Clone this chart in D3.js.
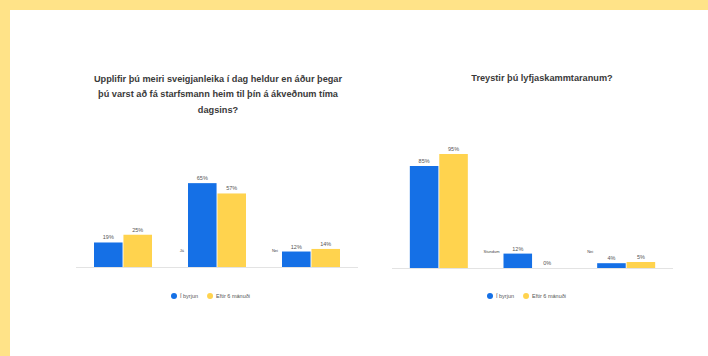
<!DOCTYPE html>
<html>
<head>
<meta charset="utf-8">
<script src="https://cdn.jsdelivr.net/npm/d3@7/dist/d3.min.js"></script>
<style>
  html, body { margin: 0; padding: 0; background: #fff; }
  svg { display: block; font-family: "Liberation Sans", Arial, sans-serif; }
</style>
</head>
<body>
<svg id="chart" width="708" height="356"></svg>
<script>
// Survey answers, first measurement vs. after six months
const seriesNames = ["Í byrjun", "Eftir 6 mánuði"];
const seriesColors = ["#1570E6", "#FFD34E"];

const flexTitle = ["Upplifir þú meiri sveigjanleika í dag heldur en áður þegar",
                   "þú varst að fá starfsmann heim til þín á ákveðnum tíma",
                   "dagsins?"];
const flexCategories = ["", "Já", "Nei"];
const flexStart = [19, 65, 12];
const flexAfter = [25, 57, 14];

const trustTitle = ["Treystir þú lyfjaskammtaranum?"];
const trustCategories = ["", "Stundum", "Nei"];
const trustStart = [85, 12, 4];
const trustAfter = [95, 0, 5];

const svg = d3.select("#chart");

// page frame: yellow band along the top and left edge
svg.append("rect").attr("x", 0).attr("y", 0).attr("width", 708).attr("height", 10).attr("fill", "#FFE388");
svg.append("rect").attr("x", 0).attr("y", 0).attr("width", 10).attr("height", 356).attr("fill", "#FFE388");

function drawPanel(opt) {
  const g = svg.append("g");
  const x = d3.scaleBand().domain(d3.range(opt.categories.length)).range([opt.x0, opt.x1]).paddingInner(0).paddingOuter(0);
  const inner = d3.scaleBand().domain(d3.range(seriesNames.length)).range([0, 58]).paddingInner(0.03);
  const y = d3.scaleLinear().domain([0, 100]).range([opt.base, opt.base - opt.scaleH]);

  // title
  const t = g.append("text").attr("text-anchor", "middle").attr("fill", "#3a3a3a")
    .attr("font-size", 9.2).attr("font-weight", "bold");
  opt.title.forEach((line, i) => {
    t.append("tspan").attr("x", opt.titleX).attr("y", opt.titleY + i * 15.5).text(line);
  });

  // baseline
  g.append("line").attr("x1", opt.x0).attr("x2", opt.x1).attr("y1", opt.base + 0.5).attr("y2", opt.base + 0.5)
    .attr("stroke", "#e3e3e3").attr("stroke-width", 1);

  const series = [opt.start, opt.after];
  opt.categories.forEach((cat, ci) => {
    const gx = x(ci) + x.bandwidth() / 2 - 29;
    series.forEach((vals, si) => {
      const v = vals[ci];
      const bx = gx + inner(si);
      g.append("rect").attr("x", bx).attr("y", y(v)).attr("width", inner.bandwidth())
        .attr("height", y(0) - y(v)).attr("fill", seriesColors[si]);
      g.append("text").attr("x", bx + inner.bandwidth() / 2).attr("y", y(v) - 3)
        .attr("text-anchor", "middle").attr("font-size", 5.5).attr("fill", "#555").text(v + "%");
    });
    if (cat) {
      g.append("text").attr("x", gx - 4).attr("y", opt.base - 15).attr("text-anchor", "end")
        .attr("font-size", 4).attr("fill", "#444").text(cat);
    }
  });

  // legend
  const lg = g.append("g").attr("transform", `translate(${opt.legendX},296)`);
  let lx = 0;
  seriesNames.forEach((name, i) => {
    lg.append("circle").attr("cx", lx).attr("cy", 0).attr("r", 3).attr("fill", seriesColors[i]);
    const txt = lg.append("text").attr("x", lx + 6).attr("y", 2).attr("font-size", 5.5).attr("fill", "#555").text(name);
    lx += 6 + txt.node().getComputedTextLength() + 12;
  });
}

drawPanel({
  title: flexTitle, categories: flexCategories, start: flexStart, after: flexAfter,
  x0: 76, x1: 358, base: 267, scaleH: 129, titleX: 218, titleY: 81.5, legendX: 174
});

drawPanel({
  title: trustTitle, categories: trustCategories, start: trustStart, after: trustAfter,
  x0: 392, x1: 673, base: 268, scaleH: 120, titleX: 542, titleY: 81, legendX: 490
});
</script>
</body>
</html>
